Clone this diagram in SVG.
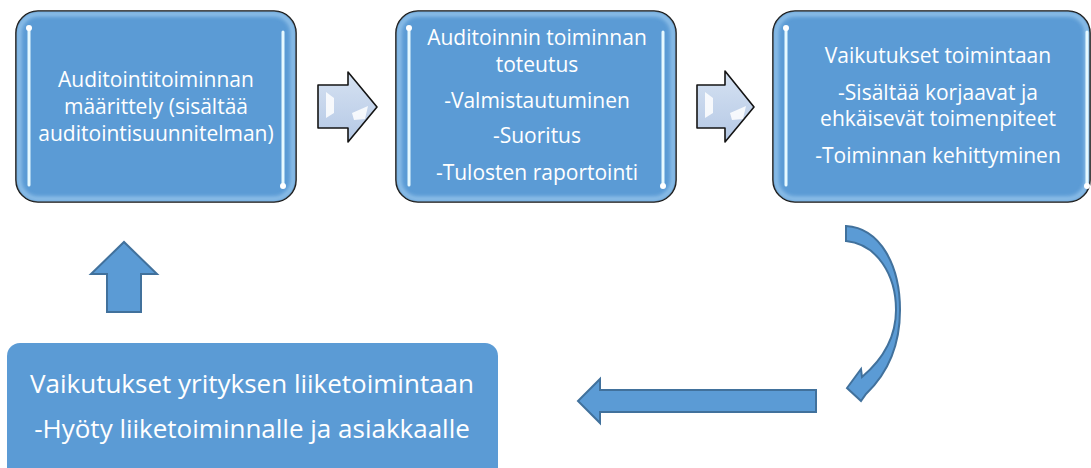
<svg xmlns="http://www.w3.org/2000/svg" width="1091" height="468" viewBox="0 0 1091 468">
<defs>
<style>
.box{fill:#5b9bd5;stroke:#141414;stroke-width:1.6}
.edge{fill:none;stroke:#b4daf7;stroke-width:4;opacity:0.75}
.strip{stroke:#e6f9ff;stroke-width:3;stroke-linecap:round}
.glow{stroke:#8fdcff;stroke-width:9;stroke-linecap:round;opacity:0.9}
.dot{fill:#ffffff}
.t{font-family:"Open Sans","Liberation Sans",sans-serif;font-size:21px;fill:#ffffff;text-anchor:middle}
.tb{font-family:"Open Sans","Liberation Sans",sans-serif;font-size:26px;fill:#ffffff;text-anchor:middle}
.chev{fill:url(#chevg);stroke:#141414;stroke-width:1.6;stroke-linejoin:round}
.hl{fill:#ffffff;opacity:0.85}
.blue{fill:#5b9bd5;stroke:#41719c;stroke-width:2;stroke-linejoin:miter}
</style>
<linearGradient id="chevg" x1="0" y1="0" x2="0" y2="1">
<stop offset="0" stop-color="#d6e2f2"/>
<stop offset="1" stop-color="#b4c8e5"/>
</linearGradient>
<filter id="blur" x="-50%" y="-20%" width="200%" height="140%">
<feGaussianBlur stdDeviation="2.2"/>
</filter>
<clipPath id="c1"><rect x="16" y="11" width="280" height="191" rx="22"/></clipPath>
<clipPath id="c2"><rect x="396" y="11" width="280" height="191" rx="22"/></clipPath>
<clipPath id="c3"><rect x="773" y="11" width="317" height="191" rx="22"/></clipPath>
</defs>

<g id="node1">
<rect class="box" x="16" y="11" width="280" height="191" rx="22"/>
<g clip-path="url(#c1)"><rect class="edge" x="19" y="14" width="274" height="185" rx="19" filter="url(#blur)"/></g>
<line class="glow" x1="29" y1="28" x2="29" y2="185" filter="url(#blur)"/>
<line class="strip" x1="29" y1="28" x2="29" y2="185"/>
<circle class="dot" cx="29" cy="28" r="3"/>
<line class="glow" x1="283" y1="32" x2="283" y2="186" filter="url(#blur)"/>
<line class="strip" x1="283" y1="32" x2="283" y2="186"/>
<circle class="dot" cx="283" cy="186" r="3"/>
<text class="t" x="156" y="87">Auditointitoiminnan</text>
<text class="t" x="156" y="114">määrittely (sisältää</text>
<text class="t" x="156" y="141">auditointisuunnitelman)</text>
</g>

<g id="node2">
<rect class="box" x="396" y="11" width="280" height="191" rx="22"/>
<g clip-path="url(#c2)"><rect class="edge" x="399" y="14" width="274" height="185" rx="19" filter="url(#blur)"/></g>
<line class="glow" x1="409" y1="28" x2="409" y2="185" filter="url(#blur)"/>
<line class="strip" x1="409" y1="28" x2="409" y2="185"/>
<circle class="dot" cx="409" cy="28" r="3"/>
<line class="glow" x1="663" y1="32" x2="663" y2="186" filter="url(#blur)"/>
<line class="strip" x1="663" y1="32" x2="663" y2="186"/>
<circle class="dot" cx="663" cy="186" r="3"/>
<text class="t" x="537" y="45">Auditoinnin toiminnan</text>
<text class="t" x="537" y="72">toteutus</text>
<text class="t" x="537" y="108">-Valmistautuminen</text>
<text class="t" x="537" y="143">-Suoritus</text>
<text class="t" x="537" y="180">-Tulosten raportointi</text>
</g>

<g id="node3">
<rect class="box" x="773" y="11" width="317" height="191" rx="22"/>
<g clip-path="url(#c3)"><rect class="edge" x="776" y="14" width="311" height="185" rx="19" filter="url(#blur)"/></g>
<line class="glow" x1="786" y1="28" x2="786" y2="185" filter="url(#blur)"/>
<line class="strip" x1="786" y1="28" x2="786" y2="185"/>
<circle class="dot" cx="786" cy="28" r="3"/>
<line class="glow" x1="1087" y1="32" x2="1087" y2="186" filter="url(#blur)"/>
<line class="strip" x1="1087" y1="32" x2="1087" y2="186"/>
<circle class="dot" cx="1087" cy="186" r="3"/>
<text class="t" x="938" y="63">Vaikutukset toimintaan</text>
<text class="t" x="938" y="100">-Sisältää korjaavat ja</text>
<text class="t" x="938" y="126">ehkäisevät toimenpiteet</text>
<text class="t" x="938" y="163">-Toiminnan kehittyminen</text>
</g>

<g id="node4">
<rect x="7" y="343" width="491" height="140" rx="13" fill="#5b9bd5"/>
<text class="tb" x="252" y="393">Vaikutukset yrityksen liiketoimintaan</text>
<text class="tb" x="252" y="438">-Hyöty liiketoiminnalle ja asiakkaalle</text>
</g>

<g id="connectors">
<g id="arrow1">
<polygon class="chev" points="318,85 348,85 348,72 377,107 348,142 348,128 318,128"/>
<polygon class="hl" points="326,92 334,98 334,113 326,118"/>
<polygon class="hl" points="352,113 368,106 365,119 354,120"/>
</g>
<g id="arrow2">
<polygon class="chev" points="697,85 725,85 725,71 754,107 725,142 725,128 697,128"/>
<polygon class="hl" points="705,92 713,98 713,113 705,118"/>
<polygon class="hl" points="730,113 746,106 743,119 732,120"/>
</g>
<path id="curved" class="blue" d="M846,226 C880,228 900,265 900,310 C900,345 888,373 866,394 L861,401 L847,388 L861,369 L862,377 C882,360 896,338 896,310 C896,275 877,244 846,241 Z"/>
<polygon id="leftarrow" class="blue" points="816,390 600,390 600,379 578,401 600,423 600,412 816,412"/>
<polygon id="uparrow" class="blue" points="107,312 107,274 91,274 124,242 157,274 141,274 141,312"/>
</g>
</svg>
